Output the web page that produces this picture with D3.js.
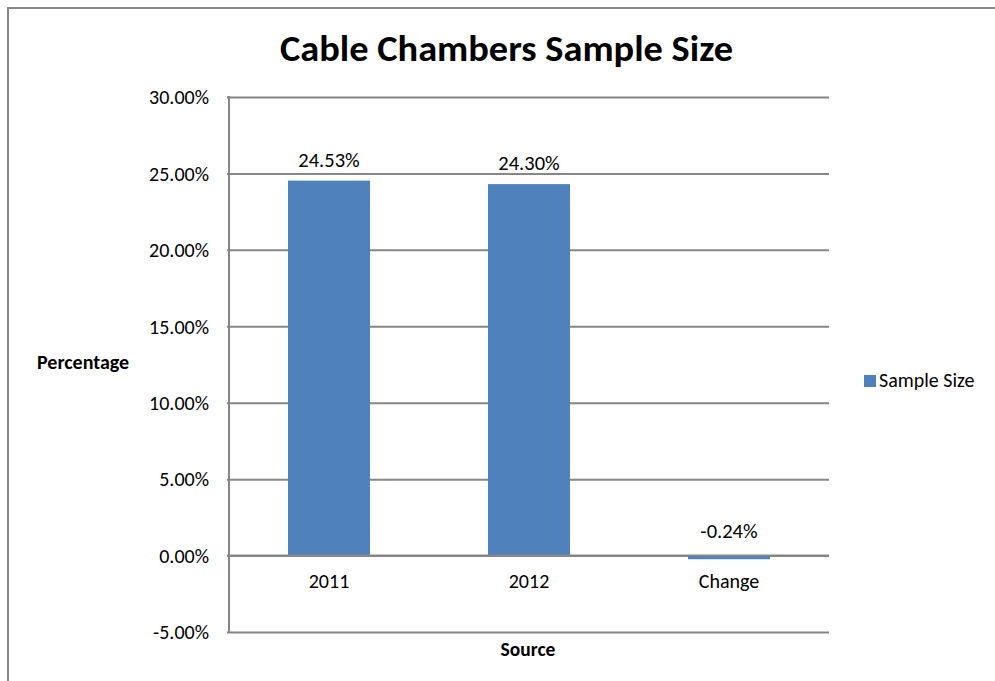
<!DOCTYPE html>
<html>
<head>
<meta charset="utf-8">
<script src="https://cdn.jsdelivr.net/npm/d3@7"></script>
<style>
  html, body { margin: 0; padding: 0; background: #fff; }
  svg { display: block; }
  text { font-family: "Carlito", "Liberation Sans", Arial, sans-serif; fill: #000; }
</style>
</head>
<body>
<svg id="chart" width="995" height="681"></svg>
<script>
// Chart data
const categories = ["2011", "2012", "Change"];
const sampleSize = [24.53, 24.30, -0.24];
const yTicks = [-5, 0, 5, 10, 15, 20, 25, 30];
const seriesName = "Sample Size";
const titleText = "Cable Chambers Sample Size";

const svg = d3.select("#chart");
const W = 995, H = 681;
const plot = { left: 229, right: 829, top: 97, bottom: 632 };
const grey = "#868686";
const barColor = "#4F81BD";
const fontStack = "Carlito, 'Liberation Sans', Arial, sans-serif";

// Outer chart frame (extends past the right and bottom edges)
svg.append("rect")
  .attr("x", 8).attr("y", 8)
  .attr("width", W + 20).attr("height", H + 20)
  .attr("fill", "#fff").attr("stroke", grey).attr("stroke-width", 2);

const x = d3.scaleBand().domain(categories)
  .range([plot.left, plot.right]).paddingInner(0.59).paddingOuter(0.295);
const y = d3.scaleLinear().domain([-5, 30]).range([plot.bottom, plot.top]);

const fmt = v => v.toFixed(2) + "%";

// Horizontal gridlines with tick labels
const yAxis = d3.axisLeft(y).tickValues(yTicks).tickFormat(fmt)
  .tickSize(-(plot.right - plot.left) - 2).tickPadding(18);
const gy = svg.append("g").attr("transform", `translate(${plot.left - 2},0)`).call(yAxis);
gy.select(".domain").remove();
gy.selectAll(".tick line").attr("stroke", grey).attr("stroke-width", 2);
gy.selectAll(".tick text")
  .attr("font-size", 20).attr("fill", "#000")
  .attr("dy", "0.34em")
  .attr("font-family", fontStack);

// Vertical value axis line
svg.append("line")
  .attr("x1", plot.left).attr("x2", plot.left)
  .attr("y1", plot.top - 1).attr("y2", plot.bottom + 1)
  .attr("stroke", grey).attr("stroke-width", 2);

// Bars
svg.append("g").selectAll("rect")
  .data(categories.map((c, i) => ({ c, v: sampleSize[i] })))
  .join("rect")
  .attr("x", d => x(d.c))
  .attr("width", x.bandwidth())
  .attr("y", d => y(Math.max(d.v, 0)))
  .attr("height", d => Math.abs(y(d.v) - y(0)))
  .attr("fill", barColor);

// Redraw the zero line over the bars
svg.append("line")
  .attr("x1", plot.left - 2).attr("x2", plot.right)
  .attr("y1", y(0)).attr("y2", y(0))
  .attr("stroke", grey).attr("stroke-width", 2);

// Value labels
svg.append("g").selectAll("text")
  .data(categories.map((c, i) => ({ c, v: sampleSize[i] })))
  .join("text")
  .attr("x", d => x(d.c) + x.bandwidth() / 2)
  .attr("y", d => y(Math.max(d.v, 0)) - (d.v < 0 ? 18 : 14))
  .attr("text-anchor", "middle")
  .attr("font-size", 20.5)
  .text(d => fmt(d.v));

// Category labels
svg.append("g").selectAll("text")
  .data(categories)
  .join("text")
  .attr("x", d => x(d) + x.bandwidth() / 2)
  .attr("y", 588)
  .attr("text-anchor", "middle")
  .attr("font-size", 20)
  .text(d => d);

// Title
svg.append("text")
  .attr("x", 280).attr("y", 61)
  .attr("font-size", 36).attr("font-weight", "bold")
  .attr("textLength", 453).attr("lengthAdjust", "spacingAndGlyphs")
  .text(titleText);

// Axis titles
svg.append("text")
  .attr("x", 528).attr("y", 656)
  .attr("text-anchor", "middle")
  .attr("font-size", 19.5).attr("font-weight", "bold")
  .text("Source");

svg.append("text")
  .attr("x", 37).attr("y", 369)
  .attr("font-size", 20).attr("font-weight", "bold")
  .text("Percentage");

// Legend
svg.append("rect")
  .attr("x", 864).attr("y", 375).attr("width", 12).attr("height", 12)
  .attr("fill", barColor);
svg.append("text")
  .attr("x", 879).attr("y", 387)
  .attr("font-size", 20)
  .text(seriesName);
</script>
</body>
</html>
